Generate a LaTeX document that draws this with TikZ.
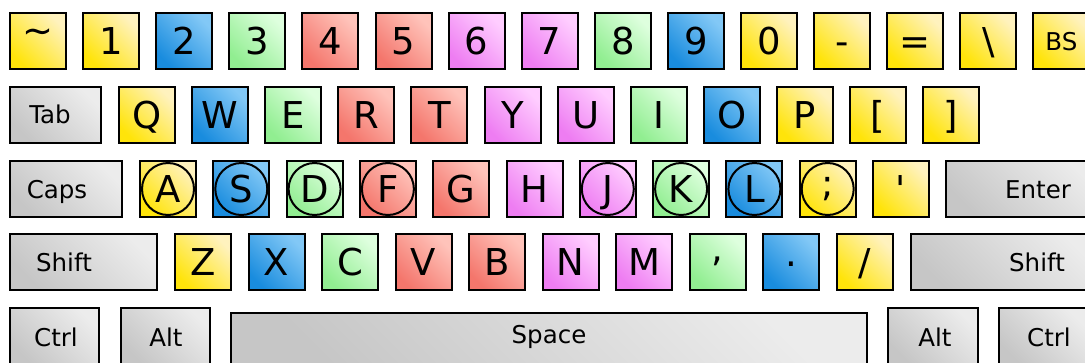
\documentclass[tikz,border=0pt]{standalone}
\usepackage{fontspec}
\setmainfont{DejaVu Sans}
\definecolor{yellowlo}{RGB}{255,228,10}
\definecolor{yellowhi}{RGB}{255,242,190}
\definecolor{bluelo}{RGB}{25,140,222}
\definecolor{bluehi}{RGB}{130,200,246}
\definecolor{greenlo}{RGB}{145,238,145}
\definecolor{greenhi}{RGB}{222,255,222}
\definecolor{redlo}{RGB}{244,118,108}
\definecolor{redhi}{RGB}{255,195,186}
\definecolor{violetlo}{RGB}{238,125,242}
\definecolor{violethi}{RGB}{255,205,255}
\definecolor{greylo}{RGB}{198,198,198}
\definecolor{greyhi}{RGB}{236,236,236}

\begin{document}
\begin{tikzpicture}[x=1pt,y=1pt,
  key/.style={draw=black,line width=2pt,inner sep=0pt,minimum width=56pt,minimum height=56pt,text height=27pt,text depth=0pt,font=\fontsize{37}{40}\selectfont},
  keylabel/.style={inner sep=0pt,text height=18pt,text depth=0pt,font=\fontsize{24.5}{27}\selectfont},
  yellow-key/.style={key,bottom color=yellowlo,top color=yellowhi,shading angle=-45},
  blue-key/.style={key,bottom color=bluelo,top color=bluehi,shading angle=-45},
  green-key/.style={key,bottom color=greenlo,top color=greenhi,shading angle=-45},
  red-key/.style={key,bottom color=redlo,top color=redhi,shading angle=-45},
  violet-key/.style={key,bottom color=violetlo,top color=violethi,shading angle=-45},
  grey-key/.style={key,bottom color=greylo,top color=greyhi,shading angle=-45},
  homering/.style={draw=black,line width=2pt}]
\clip (0,0) rectangle (1085,-362);
\fill[white] (0,0) rectangle (1085,-362);
\node[yellow-key] (key-0-0) at (38.0,-41) {\raisebox{11pt}{\textasciitilde}};
\node[yellow-key] (key-0-1) at (111.1,-41) {1};
\node[blue-key] (key-0-2) at (184.2,-41) {2};
\node[green-key] (key-0-3) at (257.3,-41) {3};
\node[red-key] (key-0-4) at (330.4,-41) {4};
\node[red-key] (key-0-5) at (403.5,-41) {5};
\node[violet-key] (key-0-6) at (476.6,-41) {6};
\node[violet-key] (key-0-7) at (549.7,-41) {7};
\node[green-key] (key-0-8) at (622.8,-41) {8};
\node[blue-key] (key-0-9) at (695.9,-41) {9};
\node[yellow-key] (key-0-10) at (769.0,-41) {0};
\node[yellow-key] (key-0-11) at (842.1,-41) {-};
\node[yellow-key] (key-0-12) at (915.2,-41) {=};
\node[yellow-key] (key-0-13) at (988.3,-41) {\textbackslash};
\node[yellow-key,keylabel] (key-0-14) at (1061.4,-41) {BS};
\node[grey-key,minimum width=91pt] (key-1-0) at (55.5,-114.5) {};
\node[keylabel] (label-1-0) at (50,-114.5) {Tab};
\node[yellow-key] (key-1-1) at (147.0,-114.5) {Q};
\node[blue-key] (key-1-2) at (220.1,-114.5) {W};
\node[green-key] (key-1-3) at (293.2,-114.5) {E};
\node[red-key] (key-1-4) at (366.3,-114.5) {R};
\node[red-key] (key-1-5) at (439.4,-114.5) {T};
\node[violet-key] (key-1-6) at (512.5,-114.5) {Y};
\node[violet-key] (key-1-7) at (585.6,-114.5) {U};
\node[green-key] (key-1-8) at (658.7,-114.5) {I};
\node[blue-key] (key-1-9) at (731.8,-114.5) {O};
\node[yellow-key] (key-1-10) at (804.9,-114.5) {P};
\node[yellow-key] (key-1-11) at (878.0,-114.5) {[};
\node[yellow-key] (key-1-12) at (951.1,-114.5) {]};
\node[grey-key,minimum width=112pt] (key-2-0) at (66,-189) {};
\node[keylabel] (label-2-0) at (57,-189) {Caps};
\node[yellow-key] (key-2-1) at (168.0,-189) {A};
\node[blue-key] (key-2-2) at (241.3,-189) {S};
\node[green-key] (key-2-3) at (314.6,-189) {D};
\node[red-key] (key-2-4) at (387.9,-189) {F};
\node[red-key] (key-2-5) at (461.2,-189) {G};
\node[violet-key] (key-2-6) at (534.5,-189) {H};
\node[violet-key] (key-2-7) at (607.8,-189) {J};
\node[green-key] (key-2-8) at (681.1,-189) {K};
\node[blue-key] (key-2-9) at (754.4,-189) {L};
\node[yellow-key] (key-2-10) at (827.7,-189) {\raisebox{6pt}{;}};
\node[yellow-key] (key-2-11) at (901.0,-189) {\textquotesingle};
\node[grey-key,minimum width=154pt] (key-2-12) at (1023,-189) {};
\node[keylabel] (label-2-12) at (1038,-189) {Enter};
\draw[homering] (key-2-1.center) circle[radius=26];
\draw[homering] (key-2-2.center) circle[radius=26];
\draw[homering] (key-2-3.center) circle[radius=26];
\draw[homering] (key-2-4.center) circle[radius=26];
\draw[homering] (key-2-7.center) circle[radius=26];
\draw[homering] (key-2-8.center) circle[radius=26];
\draw[homering] (key-2-9.center) circle[radius=26];
\draw[homering] (key-2-10.center) circle[radius=26];
\node[grey-key,minimum width=147pt] (key-3-0) at (83.5,-262) {};
\node[keylabel] (label-3-0) at (64,-262) {Shift};
\node[yellow-key] (key-3-1) at (203.0,-262) {Z};
\node[blue-key] (key-3-2) at (276.55,-262) {X};
\node[green-key] (key-3-3) at (350.1,-262) {C};
\node[red-key] (key-3-4) at (423.65,-262) {V};
\node[red-key] (key-3-5) at (497.2,-262) {B};
\node[violet-key] (key-3-6) at (570.75,-262) {N};
\node[violet-key] (key-3-7) at (644.3,-262) {M};
\node[green-key] (key-3-8) at (717.85,-262) {\raisebox{14pt}{,}};
\node[blue-key] (key-3-9) at (791.4,-262) {\raisebox{9.5pt}{.}};
\node[yellow-key] (key-3-10) at (864.95,-262) {/};
\node[grey-key,minimum width=189pt] (key-3-11) at (1005.5,-262) {};
\node[keylabel] (label-3-11) at (1037,-262) {Shift};
\node[grey-key,minimum width=89pt] (key-4-0) at (54.5,-336) {};
\node[keylabel] (label-4-0) at (56,-337) {Ctrl};
\node[grey-key,minimum width=89pt] (key-4-1) at (165.5,-336) {};
\node[keylabel] (label-4-1) at (166,-337) {Alt};
\node[grey-key,minimum width=636pt] (key-4-2) at (549,-341) {};
\node[keylabel] (label-4-2) at (549,-334) {Space};
\node[grey-key,minimum width=90pt] (key-4-3) at (933,-336) {};
\node[keylabel] (label-4-3) at (935,-337) {Alt};
\node[grey-key,minimum width=89pt] (key-4-4) at (1043.5,-336) {};
\node[keylabel] (label-4-4) at (1049,-337) {Ctrl};
\end{tikzpicture}
\end{document}
